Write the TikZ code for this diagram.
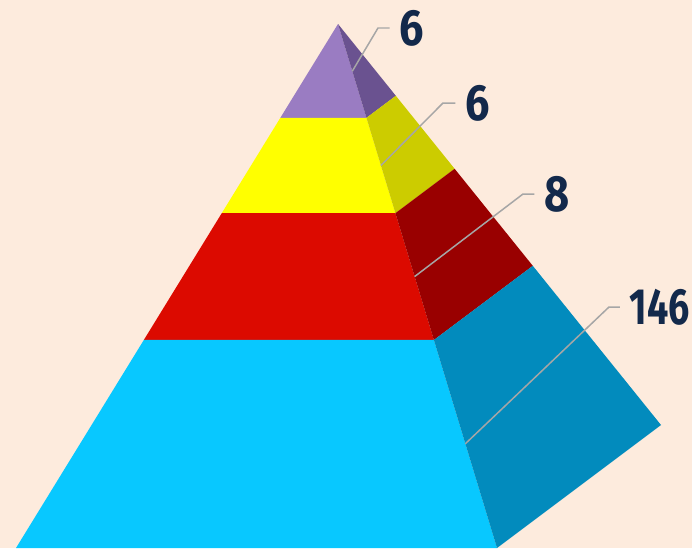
\documentclass[tikz,border=0pt]{standalone}
\usepackage{fontspec}
\newfontfamily\numfont[FakeStretch=0.85,Numbers=Proportional]{Fira Sans}
\newfontfamily\numfontnarrow[FakeStretch=0.74,Numbers=Proportional]{Fira Sans}
\usepackage{tikz}
\usetikzlibrary{positioning,calc}

\definecolor{bgpeach}{HTML}{FDEBDD}
\definecolor{purfront}{HTML}{9A7CC2}
\definecolor{purside}{HTML}{6A5290}
\definecolor{yelfront}{HTML}{FFFF00}
\definecolor{yelside}{HTML}{CCCC00}
\definecolor{redfront}{HTML}{DC0A00}
\definecolor{redside}{HTML}{990000}
\definecolor{bluefront}{HTML}{08C8FF}
\definecolor{blueside}{HTML}{028BBD}
\definecolor{leadergray}{HTML}{A6A6A6}
\definecolor{numnavy}{HTML}{13294B}

\tikzset{
  leader/.style={draw=leadergray,line width=0.85pt},
  countlbl/.style={anchor=west,inner sep=5.5pt,text=numnavy,font=\numfont\bfseries\fontsize{29}{30}\selectfont},
  widelbl/.style={countlbl,font=\numfontnarrow\bfseries\fontsize{29}{30}\selectfont}
}

\begin{document}
\begin{tikzpicture}[x=0.02cm,y=-0.02cm]
  \useasboundingbox (0,0) rectangle (692,548); % 画像の範囲
  \fill[bgpeach] (0,0) rectangle (692,548); % 背景
  \coordinate (apex) at (338,24); % 頂点
  \coordinate (fl) at (16,548); % 正面の左下
  \coordinate (fr) at (497,548); % 稜線の下端
  \coordinate (sr) at (661,425); % 側面の右端
  \foreach \nm/\t in {a/0.179,b/0.361,c/0.603}{
    \coordinate (l\nm) at ($(apex)!\t!(fl)$);
    \coordinate (m\nm) at ($(apex)!\t!(fr)$);
    \coordinate (r\nm) at ($(apex)!\t!(sr)$);
  } % 各段の境界
  \fill[purfront] (apex) -- (ma) -- (la) -- cycle; % 最上段（正面）
  \fill[purside] (apex) -- (ra) -- (ma) -- cycle; % 最上段（側面）
  \fill[yelfront] (la) -- (ma) -- (mb) -- (lb) -- cycle; % 2段目
  \fill[yelside] (ma) -- (ra) -- (rb) -- (mb) -- cycle;
  \fill[redfront] (lb) -- (mb) -- (mc) -- (lc) -- cycle; % 3段目
  \fill[redside] (mb) -- (rb) -- (rc) -- (mc) -- cycle;
  \fill[bluefront] (lc) -- (mc) -- (fr) -- (fl) -- cycle; % 最下段
  \fill[blueside] (mc) -- (rc) -- (sr) -- (fr) -- cycle;

  % 引き出し線と数値
  \coordinate (ptpur) at ($(apex)!0.090!(fr)$);
  \coordinate (ptyel) at ($(apex)!0.270!(fr)$);
  \coordinate (ptred) at ($(apex)!0.482!(fr)$);
  \coordinate (ptblue) at ($(apex)!0.801!(fr)$);
  \coordinate (kpur) at (378,28);
  \coordinate (kyel) at (443,103);
  \coordinate (kred) at (523,194);
  \coordinate (kblue) at (609,307);
  \node[countlbl,right=6.6pt of kpur] (npur) {6};
  \node[countlbl,right=7pt of kyel] (nyel) {6};
  \node[countlbl,right=6.4pt of kred] (nred) {8};
  \node[widelbl,right=6.2pt of kblue] (nblue) {146};
  \draw[leader] (ptpur) -- (kpur) -- (npur.west);
  \draw[leader] (ptyel) -- (kyel) -- (nyel.west);
  \draw[leader] (ptred) -- (kred) -- (nred.west);
  \draw[leader] (ptblue) -- (kblue) -- (nblue.west);
\end{tikzpicture}
\end{document}
